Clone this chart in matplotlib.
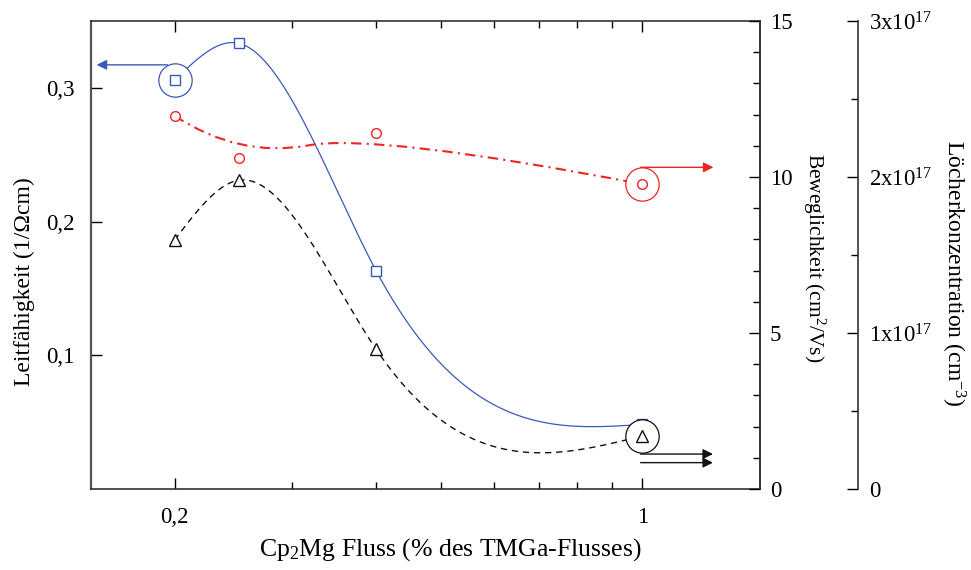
import numpy as np
import matplotlib.pyplot as plt
from matplotlib.path import Path
from matplotlib.patches import PathPatch
from matplotlib.ticker import FixedLocator, MultipleLocator, FuncFormatter, NullFormatter

plt.rcParams["font.family"] = ["Liberation Serif", "DejaVu Serif"]
plt.rcParams["mathtext.fontset"] = "custom"
plt.rcParams["mathtext.rm"] = "Liberation Serif"
plt.rcParams["mathtext.it"] = "Liberation Serif:italic"

# Cp2Mg flow (% of TMGa flow)
flow = [0.2, 0.25, 0.4, 1.0]
# conductivity (1/Ohm cm)
conductivity = [0.3055, 0.3332, 0.1634, 0.0483]
# mobility (cm^2/Vs)
mobility = [11.96, 10.61, 11.41, 9.77]
# hole concentration (1e17 cm^-3)
holes = [1.596, 1.98, 0.897, 0.34]

BLUE = "#3a5ab8"
RED = "#ee2424"
BLACK = "#111111"


def natural_spline(x, y, n=300):
    x = np.asarray(x, float)
    y = np.asarray(y, float)
    k = len(x)
    h = np.diff(x)
    A = np.zeros((k, k))
    b = np.zeros(k)
    A[0, 0] = A[-1, -1] = 1
    for i in range(1, k - 1):
        A[i, i - 1] = h[i - 1]
        A[i, i] = 2 * (h[i - 1] + h[i])
        A[i, i + 1] = h[i]
        b[i] = 6 * ((y[i + 1] - y[i]) / h[i] - (y[i] - y[i - 1]) / h[i - 1])
    M = np.linalg.solve(A, b)
    xs = np.linspace(x[0], x[-1], n)
    idx = np.clip(np.searchsorted(x, xs) - 1, 0, k - 2)
    x0, x1 = x[idx], x[idx + 1]
    hh = x1 - x0
    t0, t1 = x1 - xs, xs - x0
    ys = (M[idx] * t0 ** 3 / (6 * hh) + M[idx + 1] * t1 ** 3 / (6 * hh)
          + (y[idx] / hh - M[idx] * hh / 6) * t0
          + (y[idx + 1] / hh - M[idx + 1] * hh / 6) * t1)
    return xs, ys


def quad_bspline_path(x, y):
    # clamped quadratic B-spline: interior points act as control points,
    # knots between them sit at the (log-x) midpoints
    verts = [(x[0], y[0])]
    codes = [Path.MOVETO]
    for i in range(1, len(x) - 2):
        mx = np.sqrt(x[i] * x[i + 1])
        my = 0.5 * (y[i] + y[i + 1])
        verts += [(x[i], y[i]), (mx, my)]
        codes += [Path.CURVE3, Path.CURVE3]
    verts += [(x[-2], y[-2]), (x[-1], y[-1])]
    codes += [Path.CURVE3, Path.CURVE3]
    return Path(verts, codes)


fig = plt.figure(figsize=(9.71, 5.70), dpi=100)
ax = fig.add_axes([0.0937, 0.1421, 0.689, 0.8211])
ax_mob = ax.twinx()
ax_hole = ax.twinx()
ax_hole.spines["right"].set_position(("axes", 1.1465))

for a in (ax_mob, ax_hole):
    a.spines["top"].set_visible(False)
    a.spines["bottom"].set_visible(False)
    a.spines["left"].set_visible(False)
for a in (ax, ax_mob, ax_hole):
    for s in a.spines.values():
        s.set_color("#333333")
        s.set_linewidth(1.2)
ax.spines["left"].set_color("#555555")
ax.spines["left"].set_linewidth(1.6)

ax.set_xscale("log")
ax.set_xlim(0.15, 1.5)
ax.set_ylim(0, 0.35)
ax_mob.set_ylim(0, 15)
ax_hole.set_ylim(0, 3)

# conductivity: spline through the squares
lx, ly = natural_spline(np.log10(flow), conductivity)
ax.plot(10 ** lx, ly, color=BLUE, lw=0.9, zorder=2)
ax.plot(flow[0], conductivity[0], "o", ms=24, mfc="white", mec=BLUE, mew=0.9, zorder=3)
ax.plot(flow, conductivity, "s", ms=6.8, mfc="white", mec=BLUE, mew=1.0, zorder=4)

# hole concentration: dashed spline through the triangles
hx, hy = natural_spline(np.log10(flow), holes)
ax_hole.plot(10 ** hx, hy, color=BLACK, lw=1.0, ls=(0, (4.5, 3.5)), zorder=2)
ax_hole.plot(flow[-1], holes[-1], "o", ms=24, mfc="white", mec=BLACK, mew=0.9, zorder=3)
ax_hole.plot(flow, holes, "^", ms=9, mfc="white", mec=BLACK, mew=1.0, zorder=4)

# mobility: B-spline with the measured points as control points
ax_mob.add_patch(PathPatch(quad_bspline_path(flow, mobility), fill=False, ec=RED,
                           lw=1.5, ls=(0, (5, 2.5, 1, 2.5)), zorder=2))
ax_mob.plot(flow[-1], mobility[-1], "o", ms=24, mfc="white", mec=RED, mew=0.9, zorder=3)
ax_mob.plot(flow, mobility, "o", ms=7, mfc="white", mec=RED, mew=1.0, zorder=4)

# arrows pointing to the matching axis
ax.annotate("", xy=(0.1515, 0.3172), xytext=(0.197, 0.3172),
            arrowprops=dict(arrowstyle="-|>", color=BLUE, lw=1.0, mutation_scale=15))
ax_mob.annotate("", xy=(1.29, 10.31), xytext=(0.985, 10.31),
                arrowprops=dict(arrowstyle="-|>", color=RED, lw=1.0, mutation_scale=15))
for yv in (0.224, 0.169):
    ax_hole.annotate("", xy=(1.288, yv), xytext=(0.985, yv),
                     arrowprops=dict(arrowstyle="-|>", color=BLACK, lw=1.0, mutation_scale=15))

# ticks
ax.xaxis.set_major_locator(FixedLocator([0.2, 1.0]))
ax.xaxis.set_minor_locator(FixedLocator([0.3, 0.4, 0.5, 0.6, 0.7, 0.8, 0.9]))
ax.xaxis.set_major_formatter(FuncFormatter(lambda v, p: "0,2" if v < 0.5 else "1"))
ax.xaxis.set_minor_formatter(NullFormatter())
ax.yaxis.set_major_locator(FixedLocator([0.1, 0.2, 0.3]))
ax.yaxis.set_major_formatter(FuncFormatter(lambda v, p: f"{v:.1f}".replace(".", ",")))
ax.tick_params(which="both", direction="in", top=True, right=False, labelsize=16.5)
ax.tick_params(axis="y", pad=12)
ax.tick_params(axis="x", pad=13)
ax.tick_params(which="major", length=8, width=1)
ax.tick_params(which="minor", length=5, width=1)

ax_mob.yaxis.set_major_locator(MultipleLocator(5))
ax_mob.yaxis.set_minor_locator(MultipleLocator(1))
ax_mob.tick_params(which="both", direction="in", labelsize=16.5, pad=7)
ax_mob.tick_params(which="major", length=8, width=1)
ax_mob.tick_params(which="minor", length=5, width=1)

ax_hole.yaxis.set_major_locator(MultipleLocator(1))
ax_hole.yaxis.set_minor_locator(MultipleLocator(0.5))
ax_hole.yaxis.set_major_formatter(
    FuncFormatter(lambda v, p: "0" if v == 0 else f"{v:.0f}x10$^{{\\mathrm{{17}}}}$"))
ax_hole.tick_params(which="both", direction="in", labelsize=16.5, pad=8)
ax_hole.tick_params(which="major", length=8, width=1)
ax_hole.tick_params(which="minor", length=5, width=1)

ax.set_xlabel("Cp$_{\\mathrm{2}}$Mg Fluss (% des TMGa-Flusses)", fontsize=18.5)
ax.xaxis.set_label_coords(0.537, -0.1)
ax.set_ylabel("Leitfähigkeit (1/Ωcm)", fontsize=17)
ax.yaxis.set_label_coords(-0.084, 0.444)
ax_mob.set_ylabel("Beweglichkeit (cm$^{\\mathrm{2}}$/Vs)", fontsize=15.5, rotation=270)
ax_mob.yaxis.set_label_coords(1.10, 0.494)
ax_hole.set_ylabel("Löcherkonzentration (cm$^{\\mathrm{-3}}$)", fontsize=17, rotation=270)
ax_hole.yaxis.set_label_coords(1.309, 0.46)

fig.savefig("out.png", dpi=100)
